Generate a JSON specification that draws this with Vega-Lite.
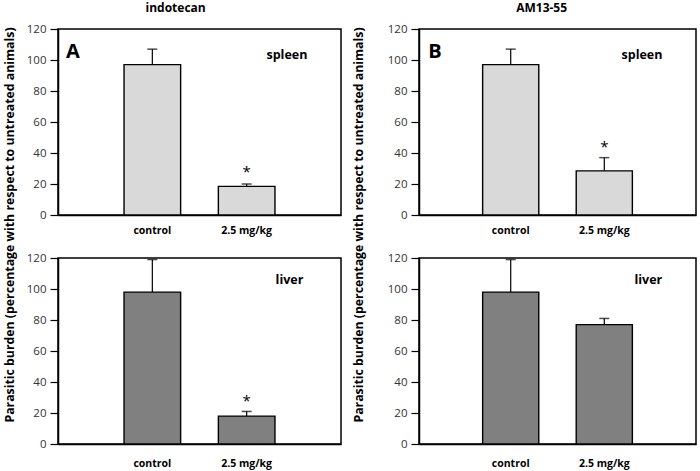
{
  "$schema": "https://vega.github.io/schema/vega-lite/v6.json",
  "padding": {"left": 3, "top": 2, "right": 4, "bottom": 0},
  "background": "white",
  "datasets": {
    "bars": [
      {"p": "A", "dose": "control", "mean": 97, "upper": 107, "star": null},
      {"p": "A", "dose": "2.5 mg/kg", "mean": 18.5, "upper": 20, "star": 30},
      {"p": "B", "dose": "control", "mean": 97, "upper": 107, "star": null},
      {"p": "B", "dose": "2.5 mg/kg", "mean": 28.5, "upper": 37, "star": 46},
      {"p": "C", "dose": "control", "mean": 98, "upper": 119, "star": null},
      {"p": "C", "dose": "2.5 mg/kg", "mean": 18, "upper": 21, "star": 30},
      {"p": "D", "dose": "control", "mean": 98, "upper": 119, "star": null},
      {"p": "D", "dose": "2.5 mg/kg", "mean": 77, "upper": 81, "star": null}
    ],
    "labels": [
      {"p": "A", "kind": "letter", "label": "A", "px": 0.053, "py": 105},
      {"p": "A", "kind": "organ", "label": "spleen", "px": 0.809, "py": 103.5},
      {"p": "B", "kind": "letter", "label": "B", "px": 0.058, "py": 105},
      {"p": "B", "kind": "organ", "label": "spleen", "px": 0.805, "py": 103.5},
      {"p": "C", "kind": "organ", "label": "liver", "px": 0.818, "py": 105.5},
      {"p": "D", "kind": "organ", "label": "liver", "px": 0.828, "py": 105.5}
    ],
    "ytitle": [
      {"t": "Parasitic burden (percentage with respect to untreated animals)"}
    ]
  },
  "config": {
    "font": "Open Sans",
    "view": {"stroke": "black", "strokeWidth": 1.5},
    "axis": {"grid": false, "domainColor": "black", "domainWidth": 1.5, "tickColor": "black", "tickWidth": 1.2, "labelFont": "Open Sans"},
    "axisY": {"values": [0, 20, 40, 60, 80, 100, 120], "tickSize": 8, "labelFontSize": 11.5, "labelColor": "#333", "labelPadding": 4},
    "title": {"font": "Open Sans", "fontSize": 12, "fontWeight": "bold", "color": "black"}
  },
  "spacing": 10,
  "hconcat": [
    {
      "spacing": 8,
      "hconcat": [
        {
          "width": 14, "height": 392,
          "view": {"stroke": null},
          "data": {"name": "ytitle"},
          "mark": {"type": "text", "angle": 270, "fontSize": 12.3, "fontWeight": "bold", "color": "black"},
          "encoding": {"text": {"field": "t"}}
        },
        {
          "title": {"text": "indotecan", "anchor": "middle", "offset": 7, "dx": -8},
          "spacing": 14,
          "vconcat": [
            {
              "width": 283, "height": 186,
              "data": {"name": "bars"},
              "transform": [{"filter": "datum.p === 'A'"}],
              "layer": [
                {"mark": {"type": "bar", "fill": "#d9d9d9", "stroke": "black", "strokeWidth": 1.4},
                 "encoding": {
                   "x": {"field": "dose", "type": "nominal", "scale": {"type": "band", "domain": ["control", "2.5 mg/kg"], "paddingInner": 0.4, "paddingOuter": 0.7},
                         "axis": {"title": null, "labelAngle": 0, "ticks": false, "labelFontWeight": "bold", "labelFontSize": 10.5, "labelColor": "black", "labelPadding": 10}},
                   "y": {"field": "mean", "type": "quantitative", "scale": {"domain": [0, 120]}, "title": null}
                 }},
                {"mark": {"type": "rule", "color": "black", "strokeWidth": 1.2},
                 "encoding": {"x": {"field": "dose", "type": "nominal", "scale": {"type": "band", "domain": ["control", "2.5 mg/kg"], "paddingInner": 0.4, "paddingOuter": 0.7}, "axis": null},
                              "y": {"field": "mean", "type": "quantitative", "scale": {"domain": [0, 120]}, "title": null}, "y2": {"field": "upper"}}},
                {"mark": {"type": "tick", "color": "black", "thickness": 1.5, "size": 10},
                 "encoding": {"x": {"field": "dose", "type": "nominal", "scale": {"type": "band", "domain": ["control", "2.5 mg/kg"], "paddingInner": 0.4, "paddingOuter": 0.7}, "axis": null},
                              "y": {"field": "upper", "type": "quantitative", "scale": {"domain": [0, 120]}, "title": null}}},
                {"transform": [{"filter": "datum.star != null"}],
                 "mark": {"type": "text", "text": "*", "fontSize": 15, "dy": 3, "color": "black"},
                 "encoding": {"x": {"field": "dose", "type": "nominal", "scale": {"type": "band", "domain": ["control", "2.5 mg/kg"], "paddingInner": 0.4, "paddingOuter": 0.7}, "axis": null},
                              "y": {"field": "star", "type": "quantitative", "scale": {"domain": [0, 120]}, "title": null}}},
                {"data": {"name": "labels"},
                 "transform": [{"filter": "datum.p === 'A' && datum.kind === 'letter'"}],
                 "mark": {"type": "text", "fontSize": 20, "fontWeight": "bold", "color": "black"},
                 "encoding": {"x": {"field": "px", "type": "quantitative", "scale": {"domain": [0, 1]}, "axis": null},
                              "y": {"field": "py", "type": "quantitative", "scale": {"domain": [0, 120]}, "title": null}, "text": {"field": "label"}}},
                {"data": {"name": "labels"},
                 "transform": [{"filter": "datum.p === 'A' && datum.kind === 'organ'"}],
                 "mark": {"type": "text", "fontSize": 12.5, "fontWeight": "bold", "color": "black"},
                 "encoding": {"x": {"field": "px", "type": "quantitative", "scale": {"domain": [0, 1]}, "axis": null},
                              "y": {"field": "py", "type": "quantitative", "scale": {"domain": [0, 120]}, "title": null}, "text": {"field": "label"}}}
              ],
              "resolve": {"scale": {"x": "independent"}}
            },
            {
              "width": 283, "height": 186,
              "data": {"name": "bars"},
              "transform": [{"filter": "datum.p === 'C'"}],
              "layer": [
                {"mark": {"type": "bar", "fill": "#808080", "stroke": "black", "strokeWidth": 1.4},
                 "encoding": {
                   "x": {"field": "dose", "type": "nominal", "scale": {"type": "band", "domain": ["control", "2.5 mg/kg"], "paddingInner": 0.4, "paddingOuter": 0.7},
                         "axis": {"title": null, "labelAngle": 0, "ticks": false, "labelFontWeight": "bold", "labelFontSize": 10.5, "labelColor": "black", "labelPadding": 14}},
                   "y": {"field": "mean", "type": "quantitative", "scale": {"domain": [0, 120]}, "title": null}
                 }},
                {"mark": {"type": "rule", "color": "black", "strokeWidth": 1.2},
                 "encoding": {"x": {"field": "dose", "type": "nominal", "scale": {"type": "band", "domain": ["control", "2.5 mg/kg"], "paddingInner": 0.4, "paddingOuter": 0.7}, "axis": null},
                              "y": {"field": "mean", "type": "quantitative", "scale": {"domain": [0, 120]}, "title": null}, "y2": {"field": "upper"}}},
                {"mark": {"type": "tick", "color": "black", "thickness": 1.5, "size": 10},
                 "encoding": {"x": {"field": "dose", "type": "nominal", "scale": {"type": "band", "domain": ["control", "2.5 mg/kg"], "paddingInner": 0.4, "paddingOuter": 0.7}, "axis": null},
                              "y": {"field": "upper", "type": "quantitative", "scale": {"domain": [0, 120]}, "title": null}}},
                {"transform": [{"filter": "datum.star != null"}],
                 "mark": {"type": "text", "text": "*", "fontSize": 15, "dy": 3, "color": "black"},
                 "encoding": {"x": {"field": "dose", "type": "nominal", "scale": {"type": "band", "domain": ["control", "2.5 mg/kg"], "paddingInner": 0.4, "paddingOuter": 0.7}, "axis": null},
                              "y": {"field": "star", "type": "quantitative", "scale": {"domain": [0, 120]}, "title": null}}},
                {"data": {"name": "labels"},
                 "transform": [{"filter": "datum.p === 'C'"}],
                 "mark": {"type": "text", "fontSize": 12.5, "fontWeight": "bold", "color": "black"},
                 "encoding": {"x": {"field": "px", "type": "quantitative", "scale": {"domain": [0, 1]}, "axis": null},
                              "y": {"field": "py", "type": "quantitative", "scale": {"domain": [0, 120]}, "title": null}, "text": {"field": "label"}}}
              ],
              "resolve": {"scale": {"x": "independent"}}
            }
          ]
        }
      ]
    },
    {
      "spacing": 20,
      "hconcat": [
        {
          "width": 14, "height": 392,
          "view": {"stroke": null},
          "data": {"name": "ytitle"},
          "mark": {"type": "text", "angle": 270, "fontSize": 12.3, "fontWeight": "bold", "color": "black"},
          "encoding": {"text": {"field": "t"}}
        },
        {
          "title": {"text": "AM13-55", "anchor": "middle", "offset": 7},
          "spacing": 14,
          "vconcat": [
            {
              "width": 277, "height": 186,
              "data": {"name": "bars"},
              "transform": [{"filter": "datum.p === 'B'"}],
              "layer": [
                {"mark": {"type": "bar", "fill": "#d9d9d9", "stroke": "black", "strokeWidth": 1.4},
                 "encoding": {
                   "x": {"field": "dose", "type": "nominal", "scale": {"type": "band", "domain": ["control", "2.5 mg/kg"], "paddingInner": 0.4, "paddingOuter": 0.68},
                         "axis": {"title": null, "labelAngle": 0, "ticks": false, "labelFontWeight": "bold", "labelFontSize": 10.5, "labelColor": "black", "labelPadding": 10}},
                   "y": {"field": "mean", "type": "quantitative", "scale": {"domain": [0, 120]}, "title": null}
                 }},
                {"mark": {"type": "rule", "color": "black", "strokeWidth": 1.2},
                 "encoding": {"x": {"field": "dose", "type": "nominal", "scale": {"type": "band", "domain": ["control", "2.5 mg/kg"], "paddingInner": 0.4, "paddingOuter": 0.68}, "axis": null},
                              "y": {"field": "mean", "type": "quantitative", "scale": {"domain": [0, 120]}, "title": null}, "y2": {"field": "upper"}}},
                {"mark": {"type": "tick", "color": "black", "thickness": 1.5, "size": 10},
                 "encoding": {"x": {"field": "dose", "type": "nominal", "scale": {"type": "band", "domain": ["control", "2.5 mg/kg"], "paddingInner": 0.4, "paddingOuter": 0.68}, "axis": null},
                              "y": {"field": "upper", "type": "quantitative", "scale": {"domain": [0, 120]}, "title": null}}},
                {"transform": [{"filter": "datum.star != null"}],
                 "mark": {"type": "text", "text": "*", "fontSize": 15, "dy": 3, "color": "black"},
                 "encoding": {"x": {"field": "dose", "type": "nominal", "scale": {"type": "band", "domain": ["control", "2.5 mg/kg"], "paddingInner": 0.4, "paddingOuter": 0.68}, "axis": null},
                              "y": {"field": "star", "type": "quantitative", "scale": {"domain": [0, 120]}, "title": null}}},
                {"data": {"name": "labels"},
                 "transform": [{"filter": "datum.p === 'B' && datum.kind === 'letter'"}],
                 "mark": {"type": "text", "fontSize": 20, "fontWeight": "bold", "color": "black"},
                 "encoding": {"x": {"field": "px", "type": "quantitative", "scale": {"domain": [0, 1]}, "axis": null},
                              "y": {"field": "py", "type": "quantitative", "scale": {"domain": [0, 120]}, "title": null}, "text": {"field": "label"}}},
                {"data": {"name": "labels"},
                 "transform": [{"filter": "datum.p === 'B' && datum.kind === 'organ'"}],
                 "mark": {"type": "text", "fontSize": 12.5, "fontWeight": "bold", "color": "black"},
                 "encoding": {"x": {"field": "px", "type": "quantitative", "scale": {"domain": [0, 1]}, "axis": null},
                              "y": {"field": "py", "type": "quantitative", "scale": {"domain": [0, 120]}, "title": null}, "text": {"field": "label"}}}
              ],
              "resolve": {"scale": {"x": "independent"}}
            },
            {
              "width": 277, "height": 186,
              "data": {"name": "bars"},
              "transform": [{"filter": "datum.p === 'D'"}],
              "layer": [
                {"mark": {"type": "bar", "fill": "#808080", "stroke": "black", "strokeWidth": 1.4},
                 "encoding": {
                   "x": {"field": "dose", "type": "nominal", "scale": {"type": "band", "domain": ["control", "2.5 mg/kg"], "paddingInner": 0.4, "paddingOuter": 0.68},
                         "axis": {"title": null, "labelAngle": 0, "ticks": false, "labelFontWeight": "bold", "labelFontSize": 10.5, "labelColor": "black", "labelPadding": 14}},
                   "y": {"field": "mean", "type": "quantitative", "scale": {"domain": [0, 120]}, "title": null}
                 }},
                {"mark": {"type": "rule", "color": "black", "strokeWidth": 1.2},
                 "encoding": {"x": {"field": "dose", "type": "nominal", "scale": {"type": "band", "domain": ["control", "2.5 mg/kg"], "paddingInner": 0.4, "paddingOuter": 0.68}, "axis": null},
                              "y": {"field": "mean", "type": "quantitative", "scale": {"domain": [0, 120]}, "title": null}, "y2": {"field": "upper"}}},
                {"mark": {"type": "tick", "color": "black", "thickness": 1.5, "size": 10},
                 "encoding": {"x": {"field": "dose", "type": "nominal", "scale": {"type": "band", "domain": ["control", "2.5 mg/kg"], "paddingInner": 0.4, "paddingOuter": 0.68}, "axis": null},
                              "y": {"field": "upper", "type": "quantitative", "scale": {"domain": [0, 120]}, "title": null}}},
                {"data": {"name": "labels"},
                 "transform": [{"filter": "datum.p === 'D'"}],
                 "mark": {"type": "text", "fontSize": 12.5, "fontWeight": "bold", "color": "black"},
                 "encoding": {"x": {"field": "px", "type": "quantitative", "scale": {"domain": [0, 1]}, "axis": null},
                              "y": {"field": "py", "type": "quantitative", "scale": {"domain": [0, 120]}, "title": null}, "text": {"field": "label"}}}
              ],
              "resolve": {"scale": {"x": "independent"}}
            }
          ]
        }
      ]
    }
  ]
}
